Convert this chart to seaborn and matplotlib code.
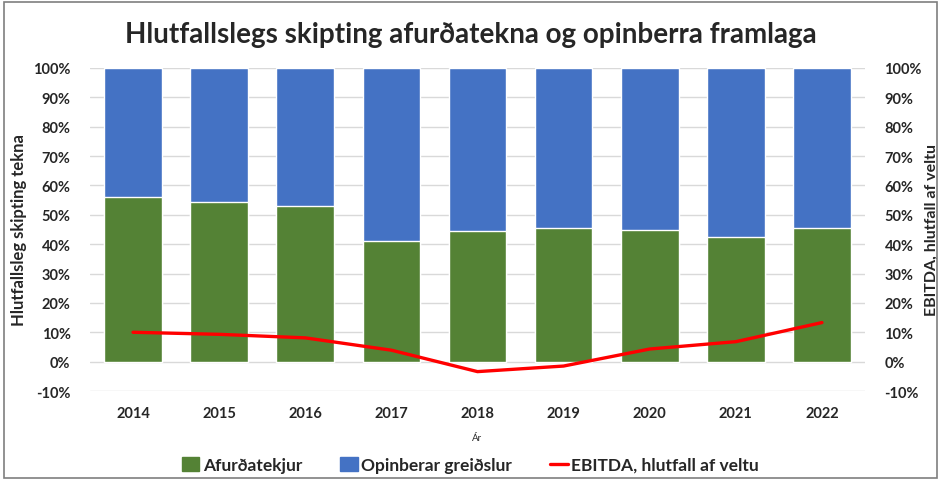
import numpy as np
import pandas as pd
import seaborn as sns
import matplotlib.pyplot as plt
from matplotlib.patches import Patch, Rectangle
from matplotlib.lines import Line2D
from matplotlib.ticker import PercentFormatter

# gildi lesin af mynd
ar = ["2014", "2015", "2016", "2017", "2018", "2019", "2020", "2021", "2022"]
afurdatekjur = [56.0, 54.2, 53.0, 41.2, 44.6, 45.5, 45.0, 42.6, 45.5]
opinberar = [44.0, 45.8, 47.0, 58.8, 55.4, 54.5, 55.0, 57.4, 54.5]
ebitda = [10.0, 9.3, 8.1, 3.9, -3.4, -1.5, 4.3, 6.8, 13.3]

GREEN = "#548235"
BLUE = "#4472C4"
RED = "#FF0000"

df = pd.DataFrame({"ar": ar, "afurd": afurdatekjur, "opin": opinberar, "ebitda": ebitda})
df["samtals"] = df["afurd"] + df["opin"]

sns.set_style("white")
plt.rcParams["font.family"] = ["Lato", "DejaVu Sans"]
plt.rcParams["axes.unicode_minus"] = False

fig = plt.figure(figsize=(9.41, 4.81), dpi=100)
ax = fig.add_axes([90 / 941, 1 - 392 / 481, 775 / 941, 323 / 481])

sns.barplot(data=df, x="ar", y="samtals", color=BLUE, width=0.67, saturation=1, ax=ax, zorder=2)
sns.barplot(data=df, x="ar", y="afurd", color=GREEN, width=0.67, saturation=1, ax=ax, zorder=3)
sns.pointplot(data=df, x="ar", y="ebitda", color=RED, markers="", linestyles="-",
              linewidth=2.4, ax=ax, zorder=4)

ax.set_ylim(-10, 100)
ax.set_xlim(-0.5, 8.5)
ax.set_yticks(np.arange(-10, 101, 10))
ax.yaxis.set_major_formatter(PercentFormatter(decimals=0))
ax.grid(axis="y", color="#D9D9D9", linewidth=1, zorder=0)
ax.set_axisbelow(True)
for s in ax.spines.values():
    s.set_visible(False)
ax.tick_params(axis="both", length=0, labelsize=10.5, pad=11)
for t in ax.get_xticklabels() + ax.get_yticklabels():
    t.set_fontweight("bold")
ax.tick_params(axis="y", pad=14)
ax.set_xlabel("Ár", fontsize=7, labelpad=9)
ax.set_ylabel("Hlutfallsleg skipting tekna", fontsize=12, fontweight="bold", labelpad=4)

ax2 = ax.twinx()
ax2.set_ylim(ax.get_ylim())
ax2.set_yticks(np.arange(-10, 101, 10))
ax2.yaxis.set_major_formatter(PercentFormatter(decimals=0))
for s in ax2.spines.values():
    s.set_visible(False)
ax2.tick_params(axis="y", length=0, labelsize=10.5, pad=14)
for t in ax2.get_yticklabels():
    t.set_fontweight("bold")
ax2.set_ylabel("EBITDA, hlutfall af veltu", fontsize=11.5, fontweight="bold", labelpad=2)

fig.suptitle("Hlutfallslegs skipting afurðatekna og opinberra framlaga",
             y=1 - 35 / 481, va="center", fontsize=20, fontweight="bold")

handles = [Patch(color=GREEN), Patch(color=BLUE), Line2D([], [], color=RED, linewidth=2.4)]
labels = ["Afurðatekjur", "Opinberar greiðslur", "EBITDA, hlutfall af veltu"]
fig.legend(handles, labels, loc="center", bbox_to_anchor=(0.5, 1 - 466 / 481), ncol=3,
           frameon=False, prop={"size": 12.5, "weight": "bold"}, handlelength=1.0,
           handleheight=0.8, handletextpad=0.2, columnspacing=2.2)

fig.patches.append(Rectangle((0.004, 0.004), 0.992, 0.99, transform=fig.transFigure,
                             fill=False, edgecolor="#7F7F7F", linewidth=1.2))

fig.savefig("out.png", dpi=100)
